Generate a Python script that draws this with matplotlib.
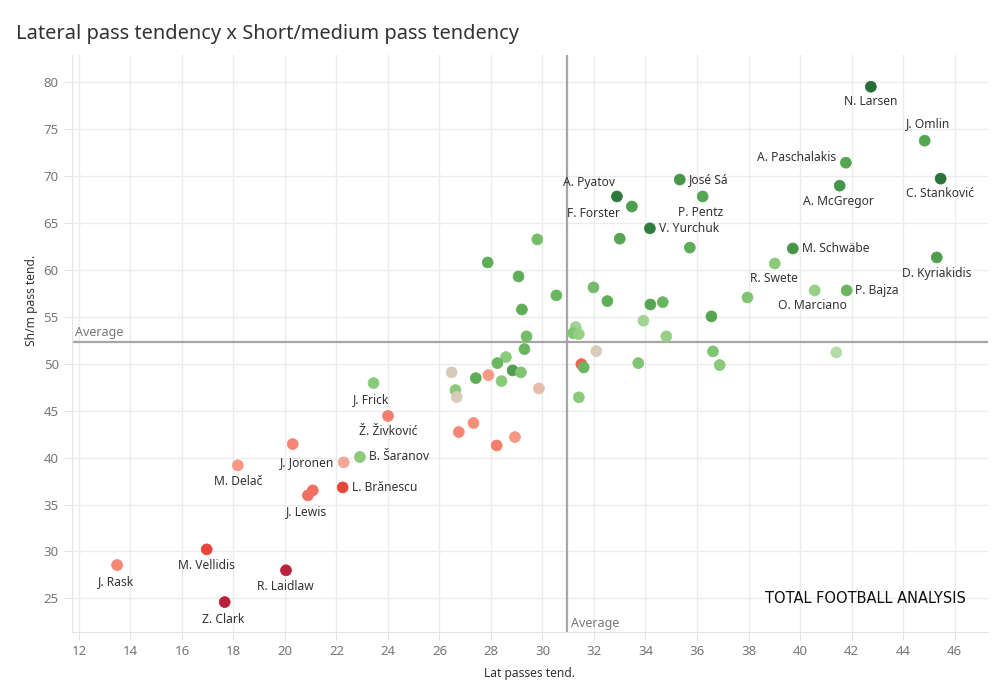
import numpy as np
import matplotlib
matplotlib.use("Agg")
import matplotlib.pyplot as plt
from matplotlib.colors import LinearSegmentedColormap

plt.rcParams['font.family'] = ['Noto Sans', 'DejaVu Sans']

# labelled players
names = ["N. Larsen", "J. Omlin", "A. Paschalakis", "C. Stanković", "A. McGregor",
         "José Sá", "P. Pentz", "A. Pyatov", "F. Forster", "V. Yurchuk",
         "M. Schwäbe", "D. Kyriakidis", "R. Swete", "O. Marciano", "P. Bajza",
         "J. Frick", "Ž. Živković", "J. Joronen", "B. Šaranov", "M. Delač",
         "L. Brănescu", "J. Lewis", "M. Vellidis", "J. Rask", "R. Laidlaw", "Z. Clark"]
lat_named = [42.75, 44.84, 41.78, 45.46, 41.54, 35.33, 36.22, 32.89, 33.47, 34.17,
             39.72, 45.31, 39.02, 40.57, 41.81, 23.44, 24.00, 22.28, 22.91, 18.17,
             22.24, 20.89, 16.96, 13.48, 20.04, 17.66]
shm_named = [79.55, 73.80, 71.45, 69.75, 69.00, 69.65, 67.85, 67.85, 66.78, 64.45,
             62.30, 61.35, 60.70, 57.83, 57.83, 47.95, 44.45, 39.50, 40.07, 39.18,
             36.83, 35.98, 30.22, 28.55, 27.99, 24.60]
tone_named = [0.98, 0.65, 0.65, 0.95, 0.75, 0.75, 0.65, 0.92, 0.70, 0.90,
              0.75, 0.70, 0.40, 0.35, 0.55, 0.40, -0.50, -0.25, 0.40, -0.35,
              -0.70, -0.55, -0.70, -0.45, -0.95, -0.95]

# other players (no label)
lat_other = [21.08, 20.30, 33.00, 35.72, 29.80, 27.87, 29.07, 30.54, 29.20, 31.98,
             32.52, 34.19, 34.67, 37.96, 36.56, 33.92, 31.29, 31.19, 31.41, 34.81,
             29.38, 29.30, 32.09, 36.62, 36.88, 28.58, 28.25, 31.51, 31.60, 33.72,
             26.47, 28.84, 29.16, 27.90, 27.41, 28.41, 26.62, 26.67, 29.86, 31.41,
             27.32, 26.75, 28.93, 28.22, 41.41]
shm_other = [36.51, 41.45, 63.35, 62.40, 63.27, 60.81, 59.32, 57.30, 55.80, 58.15,
             56.69, 56.33, 56.58, 57.08, 55.06, 54.60, 53.92, 53.28, 53.17, 52.93,
             52.93, 51.57, 51.36, 51.33, 49.87, 50.72, 50.08, 49.97, 49.62, 50.08,
             49.09, 49.30, 49.09, 48.80, 48.48, 48.16, 47.20, 46.46, 47.38, 46.43,
             43.69, 42.73, 42.20, 41.30, 51.22]
tone_other = [-0.55, -0.45, 0.65, 0.60, 0.50, 0.60, 0.60, 0.55, 0.60, 0.50,
              0.60, 0.65, 0.55, 0.45, 0.65, 0.30, 0.30, 0.45, 0.35, 0.35,
              0.50, 0.55, 0.00, 0.45, 0.40, 0.40, 0.55, -0.60, 0.55, 0.45,
              0.00, 0.70, 0.45, -0.35, 0.60, 0.40, 0.40, 0.00, -0.10, 0.40,
              -0.40, -0.45, -0.35, -0.50, 0.20]

avg_lat = 30.94
avg_shm = 52.3

# label placement (offset in px from the dot, alignment)
place = {
    "N. Larsen": (0, -15, "center"), "J. Omlin": (3, 17, "center"),
    "A. Paschalakis": (-10, 5, "right"), "C. Stanković": (-1, -15, "center"),
    "A. McGregor": (-1, -16, "center"), "José Sá": (9, 0, "left"),
    "P. Pentz": (-2, -16, "center"), "A. Pyatov": (-2, 14, "right"),
    "F. Forster": (-12, -7, "right"), "V. Yurchuk": (9, 0, "left"),
    "M. Schwäbe": (9, 0, "left"), "D. Kyriakidis": (0, -16, "center"),
    "R. Swete": (-1, -15, "center"), "O. Marciano": (-2, -15, "center"),
    "P. Bajza": (8, 0, "left"), "J. Frick": (-2, -16, "center"),
    "Ž. Živković": (0, -16, "center"), "J. Joronen": (-9, 0, "right"),
    "B. Šaranov": (9, 0, "left"), "M. Delač": (0, -16, "center"),
    "L. Brănescu": (9, 0, "left"), "J. Lewis": (-1, -16, "center"),
    "M. Vellidis": (0, -16, "center"), "J. Rask": (-1, -16, "center"),
    "R. Laidlaw": (-1, -16, "center"), "Z. Clark": (-2, -17, "center"),
}

cmap = LinearSegmentedColormap.from_list("rg", [
    (0.0, "#b2183b"), (0.15, "#e8453a"), (0.25, "#f47e6c"), (0.36, "#f8a291"),
    (0.5, "#d9cbb9"), (0.6, "#b6dba8"), (0.7, "#8ccb7c"), (0.8, "#5fae57"),
    (0.9, "#3f8f46"), (1.0, "#236b34")])

fig = plt.figure(figsize=(10, 7), dpi=100)
ax = fig.add_axes([0.072, 0.097, 0.916, 0.824])

lat = np.array(lat_other + lat_named)
shm = np.array(shm_other + shm_named)
tone = np.array(tone_other + tone_named)
cols = cmap((tone + 1) / 2)
ax.scatter(lat, shm, s=62, c=cols, edgecolors=cols, linewidths=0.5, zorder=3)

ax.axvline(avg_lat, color="#a6a6a6", lw=1.6, zorder=2)
ax.axhline(avg_shm, color="#a6a6a6", lw=1.6, zorder=2)
ax.text(11.85, avg_shm + 0.35, "Average", color="#777777", fontsize=9, va="bottom", ha="left")
ax.text(avg_lat + 0.15, 21.6, "Average", color="#777777", fontsize=9, va="bottom", ha="left")

for n, x, y in zip(names, lat_named, shm_named):
    dx, dy, ha = place[n]
    ax.annotate(n, (x, y), xytext=(dx * 0.72, dy * 0.72), textcoords="offset points",
                ha=ha, va="center", fontsize=8.7, color="#333333", zorder=4)

ax.set_xlim(11.73, 47.3)
ax.set_ylim(21.4, 82.9)
ax.set_xticks(np.arange(12, 47, 2))
ax.set_yticks(np.arange(25, 81, 5))
ax.grid(True, color="#ececec", lw=1)
ax.set_axisbelow(True)
for s in ["top", "right"]:
    ax.spines[s].set_visible(False)
for s in ["left", "bottom"]:
    ax.spines[s].set_color("#e4e4e4")
ax.tick_params(colors="#e4e4e4", labelcolor="#777777", labelsize=9.5, length=6)

fig.text(0.016, 0.952, "Lateral pass tendency x Short/medium pass tendency",
         fontsize=14.4, color="#333333", va="center", ha="left")
fig.text(0.53, 0.038, "Lat passes tend.", fontsize=8.7, color="#333333",
         ha="center", va="center", fontweight="semibold")
fig.text(0.031, 0.571, "Sh/m pass tend.", fontsize=8.7, color="#333333",
         ha="center", va="center", rotation=90, fontweight="semibold")

fig.text(0.865, 0.145, "TOTAL FOOTBALL ANALYSIS", fontsize=10.5, color="#111111",
         ha="center", va="center", family="DejaVu Sans")

fig.savefig("out.png", dpi=100, facecolor="white")
